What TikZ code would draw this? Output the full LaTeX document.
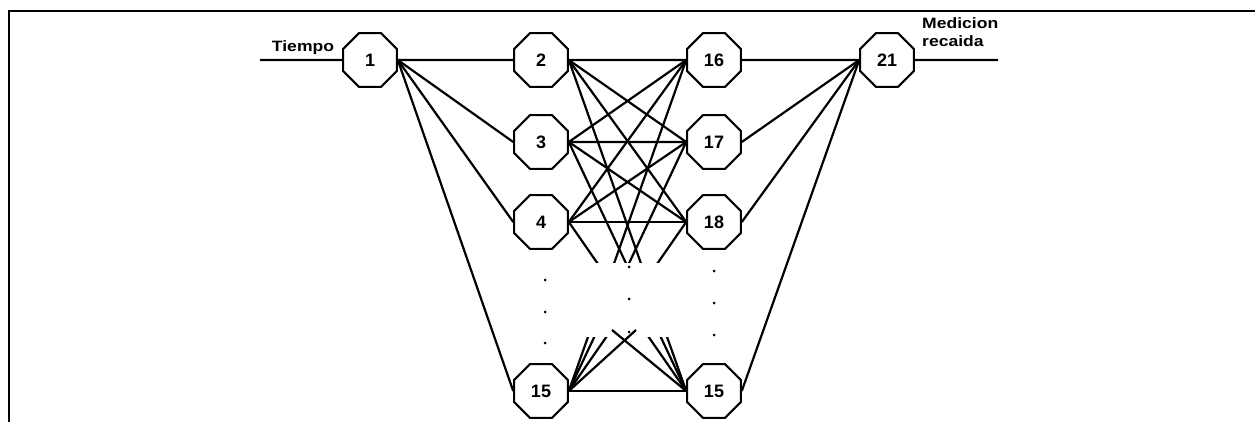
\documentclass[tikz,border=0pt]{standalone}
\usepackage{fontspec}
\setmainfont{Liberation Sans}
\usetikzlibrary{shapes.geometric}
\begin{document}
\begin{tikzpicture}[x=1pt,y=-1pt,
  oct/.style={regular polygon,regular polygon sides=8,minimum size=58pt,inner sep=0pt,draw,line width=2pt,fill=white,font=\fontsize{18}{20}\selectfont\bfseries},
  conn/.style={line width=2.2pt},
  lbl/.style={font=\fontsize{15}{18}\selectfont\bfseries,inner sep=0pt},
  framepen/.style={line width=2pt}]
\useasboundingbox (0,0) rectangle (1255,422);
% frame
\draw[framepen] (9,422) -- (9,11) -- (1255,11);
% nodes
\node[oct] (n1) at (370,60) {1};
\node[oct] (n2) at (541,60) {2};
\node[oct] (n3) at (541,142) {3};
\node[oct] (n4) at (541,222) {4};
\node[oct] (n15a) at (541,391) {15};
\node[oct] (n16) at (714,60) {16};
\node[oct] (n17) at (714,142) {17};
\node[oct] (n18) at (714,222) {18};
\node[oct] (n15b) at (714,391) {15};
\node[oct] (n21) at (887,60) {21};
% labels
\node[lbl,anchor=base] (tlab) at (303,52) {\scalebox{1.17}[1]{Tiempo}};
\node[lbl,anchor=base west] (mlab1) at (922,29) {\scalebox{1.17}[1]{Medicion}};
\node[lbl,anchor=base west] (mlab2) at (922,47) {\scalebox{1.17}[1]{recaida}};
% input / output lines
\coordinate (inp) at (260,60);
\coordinate (outp) at (998,60);
\draw[conn] (inp) -- (n1.west);
\draw[conn] (n21.east) -- (outp);
% first layer
\foreach \t in {n2,n3,n4,n15a} \draw[conn] (n1.east) -- (\t.west);
% middle layer
\foreach \s in {n2,n3,n4} \foreach \t in {n16,n17,n18} \draw[conn] (\s.east) -- (\t.west);
\draw[conn] (n15a.east) -- (n15b.west);
\begin{scope}
\clip (0,0) rectangle (1255,262);
\foreach \s in {n2,n3,n4} \draw[conn] (\s.east) -- (n15b.west);
\foreach \t in {n16,n17,n18} \draw[conn] (n15a.east) -- (\t.west);
\end{scope}
\begin{scope}
\clip (0,337) rectangle (1255,422);
\foreach \s in {n2,n3,n4} \draw[conn] (\s.east) -- (n15b.west);
\foreach \t in {n16,n17,n18} \draw[conn] (n15a.east) -- (\t.west);
\end{scope}
\coordinate (xa) at (636,330);
\coordinate (xb) at (612,330);
\draw[conn] (n15a.east) -- (xa);
\draw[conn] (n15b.west) -- (xb);
% last layer
\foreach \s in {n16,n17,n18,n15b} \draw[conn] (\s.east) -- (n21.west);
% dots
\foreach \p in {(545,280),(545,312),(545,343),(629,267),(629,299),(629,332),(714,271),(714,303),(714,335)}
  \fill \p circle (1.5pt);
\end{tikzpicture}
\end{document}
